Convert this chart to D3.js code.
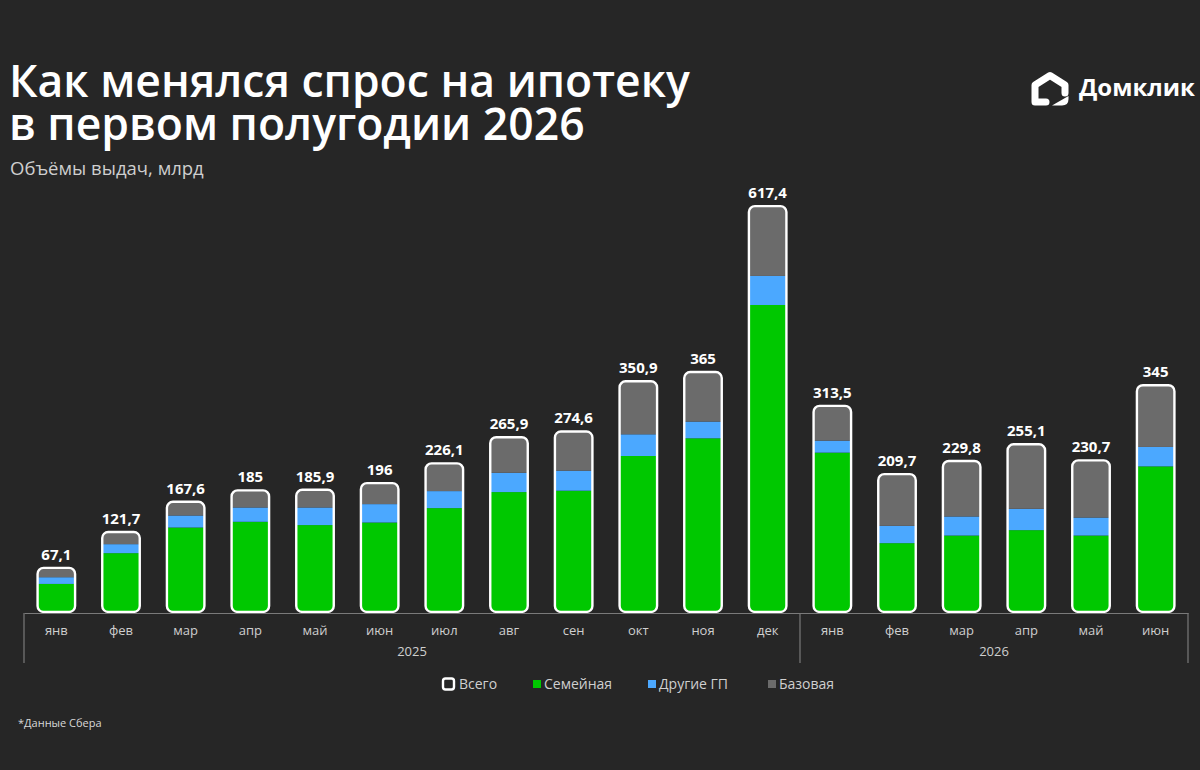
<!DOCTYPE html>
<html>
<head>
<meta charset="utf-8">
<script src="https://cdn.jsdelivr.net/npm/d3@7"></script>
<style>
  body { margin: 0; background: #262626; }
  svg { display: block; font-family: "Open Sans", sans-serif; }
</style>
</head>
<body>
<div id="vis"></div>
<script>
const FRAME_WIDTH = 1200;
const FRAME_HEIGHT = 770;

// data (млрд)
const months = ["янв", "фев", "мар", "апр", "май", "июн", "июл", "авг", "сен", "окт", "ноя", "дек",
                "янв", "фев", "мар", "апр", "май", "июн"];
const years = ["2025", "2025", "2025", "2025", "2025", "2025", "2025", "2025", "2025", "2025", "2025", "2025",
               "2026", "2026", "2026", "2026", "2026", "2026"];
const totals = [67.1, 121.7, 167.6, 185, 185.9, 196, 226.1, 265.9, 274.6, 350.9, 365, 617.4,
                313.5, 209.7, 229.8, 255.1, 230.7, 345];
const family = [42.7, 89.5, 128.5, 137.2, 132.2, 136.1, 158, 182.4, 184.5, 237.3, 264.2, 467,
                242.4, 104.7, 116.3, 124.5, 116.3, 221.5];
const otherGP = [10.2, 13.7, 18.3, 21.8, 26.8, 28, 25.9, 29.4, 30.5, 33, 25.5, 44.2,
                 18.3, 26.4, 29, 32.5, 27.4, 29.6];
const base = [14.2, 18.5, 20.8, 26, 26.9, 31.9, 42.2, 54.1, 59.6, 80.6, 75.3, 106.2,
              52.8, 78.6, 84.5, 98.1, 87, 93.9];

const seriesKeys = ["family", "otherGP", "base"];
const seriesNames = ["Семейная", "Другие ГП", "Базовая"];
const COLORS = {family: "#00c800", otherGP: "#4ba8ff", base: "#6b6b6b"};

const rows = months.map((m, i) => ({
  id: i, month: m, year: years[i], total: totals[i],
  family: family[i], otherGP: otherGP[i], base: base[i]
}));

const svg = d3.select("#vis").append("svg")
  .attr("width", FRAME_WIDTH)
  .attr("height", FRAME_HEIGHT);

svg.append("rect").attr("width", FRAME_WIDTH).attr("height", FRAME_HEIGHT).attr("fill", "#262626");

// title (two lines in one text element)
const title = svg.append("text")
  .attr("fill", "#fff").attr("font-size", 44.5).attr("font-weight", 600);
title.append("tspan").attr("x", 9).attr("y", 97).text("Как менялся спрос на ипотеку");
title.append("tspan").attr("x", 9).attr("y", 140).text("в первом полугодии 2026");

svg.append("text").attr("x", 10).attr("y", 175)
  .attr("fill", "#cfcfcf").attr("font-size", 18.5)
  .text("Объёмы выдач, млрд");

// logo
const logo = svg.append("g").attr("transform", "translate(1031,72)");
logo.append("path")
  .attr("d", "M15 30 L4 30 L4 13 L19 3.5 L34 13 L34 21")
  .attr("fill", "none").attr("stroke", "#fff").attr("stroke-width", 7)
  .attr("stroke-linejoin", "round").attr("stroke-linecap", "round");
logo.append("path")
  .attr("d", "M37.5 24 L37.5 27 Q37.5 33.5 31 33.5 L21 33.5 Z")
  .attr("fill", "#fff");
svg.append("text").attr("x", 1079).attr("y", 96)
  .attr("fill", "#fff").attr("font-size", 24).attr("font-weight", 700)
  .text("Домклик");

// scales
const X_SCALE = d3.scaleBand()
  .domain(rows.map(d => d.id))
  .range([24, 1188])
  .paddingInner(0.42)
  .paddingOuter(0.21);

const Y_SCALE = d3.scaleLinear()
  .domain([0, 620])
  .range([612, 204.4]);

const stack = d3.stack().keys(seriesKeys)(rows);

const defs = svg.append("defs");
defs.selectAll("clipPath")
  .data(rows)
  .enter().append("clipPath")
    .attr("id", d => "clip" + d.id)
  .append("rect")
    .attr("x", d => X_SCALE(d.id))
    .attr("y", d => Y_SCALE(d.total))
    .attr("width", X_SCALE.bandwidth())
    .attr("height", d => Y_SCALE(0) - Y_SCALE(d.total))
    .attr("rx", 6);

const bars = svg.append("g");
bars.selectAll("g")
  .data(stack)
  .enter().append("g")
    .attr("fill", s => COLORS[s.key])
  .selectAll("rect")
  .data(s => s)
  .enter().append("rect")
    .attr("clip-path", d => "url(#clip" + d.data.id + ")")
    .attr("x", d => X_SCALE(d.data.id))
    .attr("y", d => Y_SCALE(d[1]))
    .attr("width", X_SCALE.bandwidth())
    .attr("height", d => Y_SCALE(d[0]) - Y_SCALE(d[1]));

// white outline = total
bars.selectAll("rect.outline")
  .data(rows)
  .enter().append("rect")
    .attr("class", "outline")
    .attr("x", d => X_SCALE(d.id))
    .attr("y", d => Y_SCALE(d.total))
    .attr("width", X_SCALE.bandwidth())
    .attr("height", d => Y_SCALE(0) - Y_SCALE(d.total))
    .attr("rx", 6)
    .attr("fill", "none")
    .attr("stroke", "#fff")
    .attr("stroke-width", 2.4);

// value labels
const fmt = v => String(v).replace(".", ",");
svg.append("g").selectAll("text")
  .data(rows)
  .enter().append("text")
    .attr("x", d => X_SCALE(d.id) + X_SCALE.bandwidth() / 2)
    .attr("y", d => Y_SCALE(d.total) - 8)
    .attr("text-anchor", "middle")
    .attr("fill", "#fff")
    .attr("font-size", 15)
    .attr("font-weight", 700)
    .text(d => fmt(d.total));

// month axis
const axis = svg.append("g")
  .attr("transform", "translate(0,613)")
  .call(d3.axisBottom(X_SCALE).tickSize(0).tickPadding(13).tickFormat(i => months[i]));
axis.select(".domain").attr("stroke", "#7a7a7a").attr("stroke-width", 1.2);
axis.selectAll("text").attr("fill", "#cfcfcf").attr("font-size", 13)
  .attr("font-family", "Open Sans, sans-serif");

// year groups
const yearNames = Array.from(new Set(years));
const yearSpans = yearNames.map(y => {
  const ids = rows.filter(d => d.year === y).map(d => d.id);
  return {
    year: y,
    x0: X_SCALE(ids[0]) - X_SCALE.step() * X_SCALE.paddingInner() / 2,
    x1: X_SCALE(ids[ids.length - 1]) + X_SCALE.bandwidth() + X_SCALE.step() * X_SCALE.paddingInner() / 2
  };
});
yearSpans[0].x0 = X_SCALE.range()[0];
yearSpans[yearSpans.length - 1].x1 = X_SCALE.range()[1];

const sepX = [yearSpans[0].x0].concat(yearSpans.map(s => s.x1));
svg.append("g").selectAll("line")
  .data(sepX)
  .enter().append("line")
    .attr("x1", d => d).attr("x2", d => d)
    .attr("y1", 613).attr("y2", 663)
    .attr("stroke", "#7a7a7a").attr("stroke-width", 1.2);

svg.append("g").selectAll("text")
  .data(yearSpans)
  .enter().append("text")
    .attr("x", d => (d.x0 + d.x1) / 2)
    .attr("y", 656)
    .attr("text-anchor", "middle")
    .attr("fill", "#cfcfcf")
    .attr("font-size", 13)
    .text(d => d.year);

// legend
const legend = svg.append("g").attr("transform", "translate(0,684)");
legend.append("rect")
  .attr("x", 443).attr("y", -5.5).attr("width", 11).attr("height", 11).attr("rx", 2.5)
  .attr("fill", "none").attr("stroke", "#fff").attr("stroke-width", 2.4);
legend.append("text").attr("x", 459).attr("y", 5).attr("fill", "#cfcfcf").attr("font-size", 14)
  .text("Всего");
const legendX = [533, 648, 768];
legend.selectAll("g.item")
  .data(seriesKeys)
  .enter().append("g")
    .attr("class", "item")
    .attr("transform", (d, i) => "translate(" + legendX[i] + ",0)")
  .each(function (d, i) {
    const g = d3.select(this);
    g.append("rect").attr("x", 0).attr("y", -4).attr("width", 8).attr("height", 8)
      .attr("fill", COLORS[d]);
    g.append("text").attr("x", 11).attr("y", 5).attr("fill", "#cfcfcf").attr("font-size", 14)
      .text(seriesNames[i]);
  });

// footnote
svg.append("text").attr("x", 18).attr("y", 727)
  .attr("fill", "#d8d8d8").attr("font-size", 11)
  .text("*Данные Сбера");
</script>
</body>
</html>
